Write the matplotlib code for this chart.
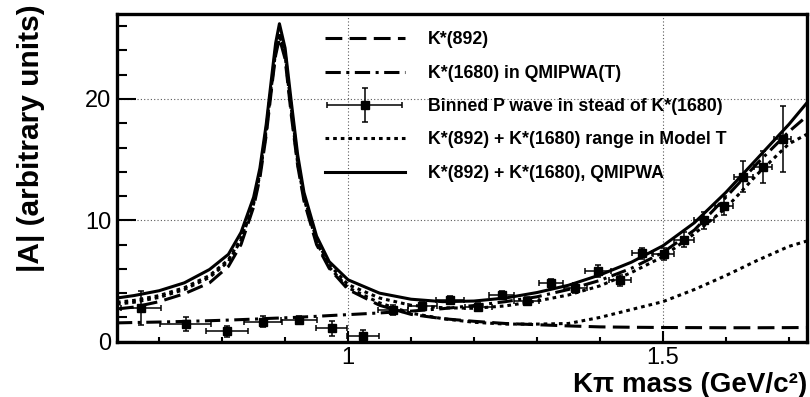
import matplotlib
matplotlib.use("Agg")
import matplotlib.pyplot as plt
from matplotlib.legend_handler import HandlerErrorbar
from matplotlib.ticker import MultipleLocator

plt.rcParams["font.family"] = ["Liberation Sans", "DejaVu Sans"]

# Kpi mass grid for the model curves (GeV/c^2)
mass = [0.633, 0.66, 0.70, 0.74, 0.78, 0.81, 0.83, 0.85, 0.86, 0.87, 0.88, 0.885,
        0.891, 0.90, 0.91, 0.92, 0.93, 0.95, 0.97, 1.0, 1.05, 1.1, 1.15, 1.2, 1.25,
        1.3, 1.35, 1.4, 1.45, 1.5, 1.55, 1.6, 1.65, 1.7, 1.729]

kstar892 = [2.7, 2.85, 3.3, 3.95, 4.85, 6.2, 8.0, 11.1, 13.5, 17.0, 21.5, 23.6,
            25.0, 23.3, 18.6, 14.5, 11.6, 8.0, 6.05, 4.3, 3.0, 2.25, 1.9, 1.68, 1.5,
            1.4, 1.3, 1.22, 1.19, 1.17, 1.16, 1.15, 1.15, 1.16, 1.17]
kstar1680 = [1.55, 1.58, 1.62, 1.67, 1.73, 1.78, 1.82, 1.86, 1.88, 1.91, 1.93, 1.94,
             1.95, 1.97, 1.99, 2.01, 2.04, 2.09, 2.15, 2.23, 2.37, 2.52, 2.72, 2.98, 3.3,
             3.7, 4.3, 5.05, 6.05, 7.35, 9.2, 11.9, 14.7, 17.3, 18.6]
model_t_high = [3.25, 3.4, 3.8, 4.45, 5.45, 6.75, 8.5, 11.5, 13.9, 17.5, 22.0, 24.1,
                25.5, 23.8, 19.2, 15.0, 12.0, 8.4, 6.35, 4.7, 3.6, 3.0, 2.8, 2.75, 2.95,
                3.35, 3.85, 4.6, 5.7, 7.0, 8.9, 11.0, 13.8, 16.3, 17.1]
model_t_low = [3.1, 3.25, 3.65, 4.3, 5.3, 6.6, 8.35, 11.35, 13.75, 17.3, 21.8, 23.9,
               25.3, 23.6, 18.9, 14.7, 11.8, 8.2, 6.15, 4.45, 3.2, 2.35, 1.9, 1.6, 1.45,
               1.45, 1.5, 2.0, 2.65, 3.3, 4.3, 5.45, 6.7, 7.85, 8.3]
qmipwa_total = [3.6, 3.8, 4.2, 4.85, 5.95, 7.2, 9.0, 11.9, 14.3, 17.9, 22.4, 24.6,
                26.2, 24.2, 19.7, 15.4, 12.3, 8.7, 6.6, 5.1, 4.0, 3.5, 3.3, 3.35, 3.6,
                4.05, 4.65, 5.5, 6.55, 7.9, 9.8, 12.3, 15.1, 17.9, 19.7]

# binned P wave replacing the K*(1680)
bin_mass = [0.671, 0.742, 0.808, 0.865, 0.922, 0.974, 1.024, 1.071, 1.118, 1.162,
            1.207, 1.244, 1.284, 1.323, 1.361, 1.397, 1.432, 1.467, 1.501, 1.533,
            1.565, 1.597, 1.628, 1.659, 1.690]
bin_amp = [2.75, 1.45, 0.85, 1.65, 1.8, 1.1, 0.5, 2.6, 2.95, 3.45, 2.85, 3.85, 3.35,
           4.8, 4.45, 5.8, 5.05, 7.3, 7.2, 8.4, 10.0, 11.2, 13.6, 14.4, 16.7]
bin_amp_err = [1.4, 0.55, 0.45, 0.45, 0.3, 0.6, 0.45, 0.4, 0.3, 0.35, 0.3, 0.35, 0.3,
               0.4, 0.4, 0.5, 0.45, 0.45, 0.5, 0.6, 0.7, 0.8, 1.3, 1.3, 2.7]
bin_half_width = [0.032, 0.04, 0.033, 0.03, 0.028, 0.025, 0.025, 0.024, 0.023, 0.022,
                  0.021, 0.02, 0.02, 0.019, 0.018, 0.02, 0.017, 0.016, 0.016, 0.016,
                  0.016, 0.015, 0.015, 0.015, 0.014]

labels = ["K*(892)", "K*(1680) in QMIPWA(T)", "Binned P wave in stead of K*(1680)",
          "K*(892) + K*(1680) range in Model T", "K*(892) + K*(1680), QMIPWA"]

fig = plt.figure(figsize=(8.1, 3.97), dpi=100)
ax = fig.add_axes([0.1444, 0.1393, 0.852, 0.8254])

lw = 2.2
h_dash, = ax.plot(mass, kstar892, color="black", lw=lw, ls=(0, (5.5, 2.4)))
h_dashdot, = ax.plot(mass, kstar1680, color="black", lw=lw, ls=(0, (5, 1.8, 1, 1.8)))
h_dot, = ax.plot(mass, model_t_high, color="black", lw=lw, ls=(0, (1.2, 1.3)))
ax.plot(mass, model_t_low, color="black", lw=lw, ls=(0, (1.2, 1.3)))
h_solid, = ax.plot(mass, qmipwa_total, color="black", lw=lw)
h_bins = ax.errorbar(bin_mass, bin_amp, xerr=bin_half_width, yerr=bin_amp_err,
                     fmt="s", color="black", ms=5.5, elinewidth=1.1, capsize=2.2,
                     capthick=1.1)

ax.set_xlim(0.633, 1.729)
ax.set_ylim(0, 27)
ax.xaxis.set_major_locator(MultipleLocator(0.5))
ax.xaxis.set_minor_locator(MultipleLocator(0.1))
ax.yaxis.set_major_locator(MultipleLocator(10))
ax.yaxis.set_minor_locator(MultipleLocator(2))
ax.xaxis.set_major_formatter(lambda v, p: f"{v:g}")
ax.tick_params(axis="both", which="both", direction="in", width=1.5, labelsize=17,
               top=False, right=False)
ax.tick_params(axis="x", which="major", length=8, pad=4)
ax.tick_params(axis="x", which="minor", length=3.5)
ax.tick_params(axis="y", which="major", length=14, pad=4)
ax.tick_params(axis="y", which="minor", length=7)
for sp in ax.spines.values():
    sp.set_linewidth(2.4)

ax.grid(True, which="major", color="0.35", lw=0.8, ls=(0, (1, 2)))
ax.set_axisbelow(True)

ax.set_ylabel("|A| (arbitrary units)", fontsize=21.5, fontweight="bold", loc="top")
ax.yaxis.set_label_coords(-0.104, 1.03)
ax.set_xlabel("K\u03c0 mass (GeV/c\u00b2)", fontsize=20, fontweight="bold",
              loc="right", labelpad=2)

ax.legend([h_dash, h_dashdot, h_bins, h_dot, h_solid], labels,
          loc="upper left", bbox_to_anchor=(0.301, 0.947), frameon=False,
          borderpad=0, borderaxespad=0, handlelength=4.5, handletextpad=1.3,
          labelspacing=0.92, prop={"size": 12.8, "weight": "bold"},
          handler_map={h_bins: HandlerErrorbar(xerr_size=2.1, yerr_size=0.95)})

fig.savefig("out.png", dpi=100)
